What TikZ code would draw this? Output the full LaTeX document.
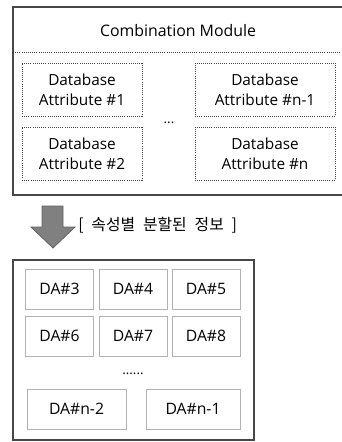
\documentclass[tikz,border=0pt]{standalone}
\usepackage{fontspec}
\setmainfont{Open Sans}
\newfontfamily\kofont[WordSpace=2.2]{Noto Sans CJK KR}
\begin{document}
\begin{tikzpicture}
  [x=0.75pt,y=-0.75pt,
   frame/.style={draw=black!72,line width=1.5pt},
   attr/.style={draw=black!75,densely dotted,line width=0.6pt,inner sep=0pt,
     minimum height=39.75pt,align=center,font=\fontsize{11.5}{15}\selectfont},
   cell/.style={draw=black!30,line width=0.5pt,inner sep=0pt,
     minimum width=51pt,minimum height=30pt,font=\fontsize{11.8}{13}\selectfont}]
  \useasboundingbox (0,0) rectangle (342,442);
  \clip (0,0) rectangle (342,442);
  % combination module
  \draw[frame] (13,7) rectangle (350,195);
  \draw[black!75,densely dotted,line width=0.6pt] (13,52) -- (350,52);
  \node (title) at (178,31) {\fontsize{11.9}{13}\selectfont Combination Module};
  \node[attr,minimum width=90pt] (a1) at (82,89.5) {Database\\Attribute \#1};
  \node[attr,minimum width=90pt] (a2) at (82,153.5) {Database\\Attribute \#2};
  \node[attr,minimum width=105pt] (an1) at (265,89.5) {Database\\Attribute \#n-1};
  \node[attr,minimum width=105pt] (an) at (265,153.5) {Database\\Attribute \#n};
  \node (adots) at (169,123) {\fontsize{10}{10}\selectfont ...};
  % arrow
  \draw[fill=black!50,draw=black!62,line width=0.6pt]
    (42,206) -- (63,206) -- (63,227) -- (75,227) -- (53,248)
    -- (31,227) -- (42,227) -- cycle;
  \node[anchor=west,inner sep=0pt] (info) at (78,225)
    {\kofont\fontsize{11.9}{13}\selectfont [ 속성별 분할된 정보 ]};
  % split attributes
  \draw[frame] (13,260) rectangle (254,440);
  \node[cell] (d3) at (59.5,289) {DA\#3};
  \node[cell] (d4) at (133,289) {DA\#4};
  \node[cell] (d5) at (206,289) {DA\#5};
  \node[cell] (d6) at (59.5,336) {DA\#6};
  \node[cell] (d7) at (133,336) {DA\#7};
  \node[cell] (d8) at (206,336) {DA\#8};
  \node (ddots) at (133,374) {\fontsize{10}{10}\selectfont ......};
  \node[cell,minimum width=74.25pt] (dn2) at (76.5,409) {DA\#n-2};
  \node[cell,minimum width=70.5pt] (dn1) at (193,409) {DA\#n-1};
\end{tikzpicture}
\end{document}
